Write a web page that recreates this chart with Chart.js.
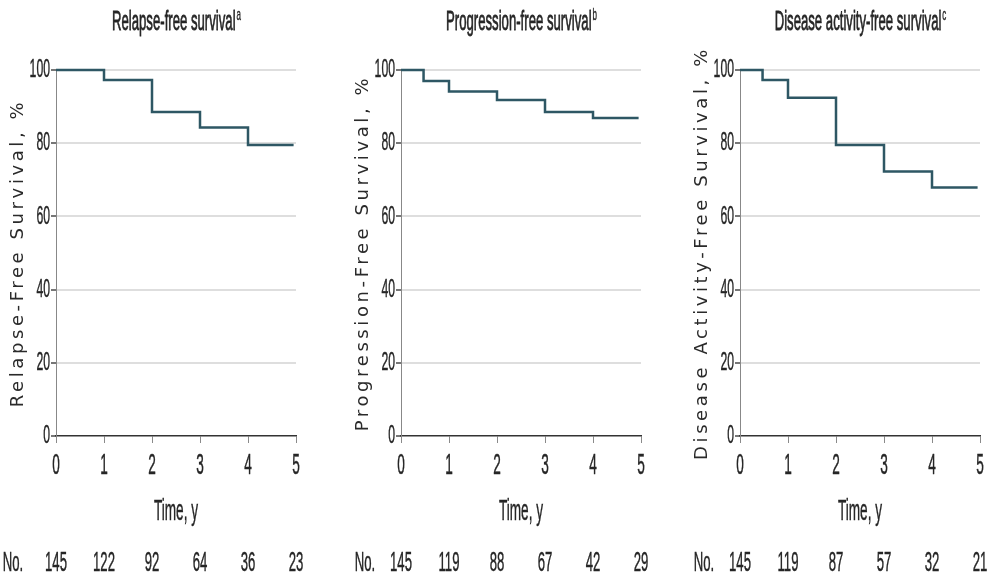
<!DOCTYPE html>
<html>
<head>
<meta charset="utf-8">
<script src="https://cdn.jsdelivr.net/npm/chart.js@4"></script>
<style>
  html, body { margin: 0; padding: 0; background: #fff; }
  #wrap { position: relative; width: 992px; height: 577px; }
  canvas { position: absolute; top: 0; }
</style>
</head>
<body>
<div id="wrap">
  <canvas id="c1" width="330" height="577" style="left:0px"></canvas>
  <canvas id="c2" width="330" height="577" style="left:330px"></canvas>
  <canvas id="c3" width="332" height="577" style="left:660px"></canvas>
</div>
<script>
// x ticks (years) and y ticks (%)
const yearTicks = [0, 1, 2, 3, 4, 5];
const pctTicks = [0, 20, 40, 60, 80, 100];

// Relapse-free survival
const rfsTime = [0, 1, 2, 3, 4, 4.95];
const rfsSurv = [100, 97.3, 88.5, 84.3, 79.5, 79.5];
const rfsAtRisk = [145, 122, 92, 64, 36, 23];

// Progression-free survival
const pfsTime = [0, 0.47, 1, 2, 3, 4, 4.95];
const pfsSurv = [100, 97, 94.1, 91.8, 88.5, 86.9, 86.9];
const pfsAtRisk = [145, 119, 88, 67, 42, 29];

// Disease activity-free survival
const dafsTime = [0, 0.47, 1, 2, 3, 4, 4.95];
const dafsSurv = [100, 97.3, 92.4, 79.5, 72.3, 67.9, 67.9];
const dafsAtRisk = [145, 119, 87, 57, 32, 21];

const LINE = '#2e5764';
const TEXT = '#262626';
const SX = 0.47; // horizontal squeeze for the condensed labels

const panels = [
  { id: 'c1', title: 'Relapse-free survival', sup: 'a', yTitle: 'Relapse-Free Survival, %',
    time: rfsTime, surv: rfsSurv, atRisk: rfsAtRisk, padL: 56, padR: 34, noX: 13 },
  { id: 'c2', title: 'Progression-free survival', sup: 'b', yTitle: 'Progression-Free Survival, %',
    time: pfsTime, surv: pfsSurv, atRisk: pfsAtRisk, padL: 71, padR: 19, noX: 35 },
  { id: 'c3', title: 'Disease activity-free survival', sup: 'c', yTitle: 'Disease Activity-Free Survival, %',
    time: dafsTime, surv: dafsSurv, atRisk: dafsAtRisk, padL: 80, padR: 12, noX: 44 }
];

function narrowText(ctx, text, x, y, size, align, heavy) {
  ctx.save();
  ctx.font = size + 'px "Liberation Sans", Arial, sans-serif';
  ctx.textBaseline = 'middle';
  ctx.textAlign = 'left';
  ctx.fillStyle = TEXT;
  ctx.strokeStyle = TEXT;
  const w = ctx.measureText(text).width * SX;
  let left = x;
  if (align === 'center') left = x - w / 2;
  else if (align === 'right') left = x - w;
  ctx.translate(left, y);
  ctx.scale(SX, 1);
  ctx.fillText(text, 0, 0);
  // thicken the squeezed strokes a little
  ctx.lineWidth = heavy || 0.45;
  ctx.strokeText(text, 0, 0);
  ctx.restore();
  return w;
}

function textWidth(ctx, text, size) {
  ctx.save();
  ctx.font = size + 'px "Liberation Sans", Arial, sans-serif';
  const w = ctx.measureText(text).width * SX;
  ctx.restore();
  return w;
}

function labelsPlugin(p) {
  return {
    id: 'kmLabels',
    afterDraw(chart) {
      const ctx = chart.ctx;
      const area = chart.chartArea;
      const xs = chart.scales.x;
      const ys = chart.scales.y;
      const midX = (area.left + area.right) / 2;

      // title with superscript
      const wMain = textWidth(ctx, p.title, 28);
      const wSup = textWidth(ctx, p.sup, 17);
      const start = midX - (wMain + wSup) / 2;
      narrowText(ctx, p.title, start, 22, 28, 'left', 0.8);
      narrowText(ctx, p.sup, start + wMain + 1, 15, 17, 'left', 0.4);

      // y tick labels
      pctTicks.forEach(v => {
        narrowText(ctx, String(v), area.left - 6, ys.getPixelForValue(v), 26, 'right');
      });

      // x tick labels
      yearTicks.forEach(v => {
        narrowText(ctx, String(v), xs.getPixelForValue(v), 466, 29, 'center');
      });

      narrowText(ctx, 'Time, y', midX, 512, 29, 'center');

      // numbers at risk
      narrowText(ctx, 'No.', p.noX, 563, 28, 'center');
      p.atRisk.forEach((n, i) => {
        narrowText(ctx, String(n), xs.getPixelForValue(yearTicks[i]), 563, 28, 'center');
      });

      // rotated y axis title
      ctx.save();
      ctx.font = '18px "DejaVu Sans", Verdana, sans-serif';
      ctx.letterSpacing = '3.6px';
      ctx.fillStyle = '#2a2a2a';
      ctx.textAlign = 'center';
      ctx.textBaseline = 'middle';
      ctx.translate(area.left - 38, (area.top + area.bottom) / 2);
      ctx.rotate(-Math.PI / 2);
      ctx.fillText(p.yTitle, 0, 0);
      ctx.restore();
    }
  };
}

panels.forEach(p => {
  const ctx = document.getElementById(p.id).getContext('2d');
  new Chart(ctx, {
    type: 'line',
    data: {
      datasets: [{
        data: p.time.map((t, i) => ({ x: t, y: p.surv[i] })),
        stepped: true,
        borderColor: LINE,
        borderWidth: 2.5,
        pointRadius: 0,
        fill: false,
        clip: 4
      }]
    },
    options: {
      responsive: false,
      animation: false,
      events: [],
      layout: { padding: { left: p.padL, right: p.padR, top: 70, bottom: 141 } },
      plugins: { legend: { display: false }, tooltip: { enabled: false } },
      scales: {
        x: {
          type: 'linear',
          min: 0,
          max: 5,
          afterFit: s => { s.height = 0; },
          ticks: { stepSize: 1, display: false },
          grid: { drawOnChartArea: false, drawTicks: true, tickLength: 7, tickColor: '#8a8a8a' },
          border: { color: '#333', width: 1.5 }
        },
        y: {
          min: 0,
          max: 100,
          afterFit: s => { s.width = 0; },
          ticks: { stepSize: 20, display: false },
          grid: {
            color: c => (c.tick && c.tick.value === 0 ? 'rgba(0,0,0,0)' : '#dedede'),
            lineWidth: 2,
            tickLength: 5,
            tickColor: '#777'
          },
          border: { color: '#888', width: 1 }
        }
      }
    },
    plugins: [labelsPlugin(p)]
  });
});
</script>
</body>
</html>
